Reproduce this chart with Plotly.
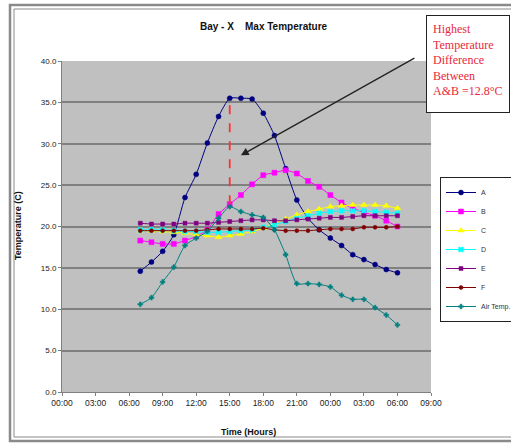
import plotly.graph_objects as go

# Hourly readings from 07:00 through 06:00 the next morning (hours counted from midnight of day one)
hours = list(range(7, 31))

temp_a = [14.6, 15.7, 17.0, 19.0, 23.5, 26.3, 30.1, 33.3, 35.5, 35.5, 35.4, 33.7,
          31.0, 27.0, 23.2, 21.0, 19.6, 18.6, 17.7, 16.6, 16.0, 15.4, 14.8, 14.4]
temp_b = [18.3, 18.1, 17.9, 17.9, 18.3, 18.8, 19.6, 21.5, 22.7, 23.8, 25.1, 26.2,
          26.5, 26.8, 26.4, 25.5, 24.8, 23.8, 22.9, 22.2, 21.7, 21.3, 20.7, 20.0]
temp_c = [19.5, 19.5, 19.4, 19.3, 19.2, 19.0, 18.9, 18.7, 18.9, 19.1, 19.4, 19.8,
          20.4, 20.9, 21.4, 21.8, 22.1, 22.4, 22.5, 22.6, 22.6, 22.6, 22.5, 22.2]
temp_d = [19.6, 19.6, 19.6, 19.5, 19.4, 19.4, 19.3, 19.3, 19.4, 19.5, 19.6, 19.9,
          20.2, 20.6, 21.0, 21.3, 21.6, 21.8, 21.9, 21.9, 21.9, 21.8, 21.7, 21.6]
temp_e = [20.4, 20.3, 20.3, 20.3, 20.4, 20.4, 20.4, 20.5, 20.6, 20.7, 20.8, 20.8,
          20.7, 20.7, 20.8, 20.9, 21.0, 21.1, 21.1, 21.2, 21.3, 21.3, 21.3, 21.3]
temp_f = [19.5, 19.5, 19.5, 19.5, 19.5, 19.5, 19.6, 19.7, 19.7, 19.7, 19.7, 19.8,
          19.6, 19.5, 19.5, 19.5, 19.6, 19.7, 19.7, 19.7, 19.9, 19.9, 19.9, 20.0]
air_temp = [10.6, 11.4, 13.3, 15.1, 17.7, 18.6, 19.4, 21.0, 22.4, 21.8, 21.4, 21.1,
            19.6, 16.6, 13.1, 13.1, 13.0, 12.7, 11.7, 11.2, 11.2, 10.2, 9.3, 8.1]

tick_hours = list(range(0, 34, 3))
tick_text = ["00:00", "03:00", "06:00", "09:00", "12:00", "15:00", "18:00",
             "21:00", "00:00", "03:00", "06:00", "09:00"]

peak_hour = 15

series = [
    ("A", temp_a, "#000080", "circle", 5),
    ("B", temp_b, "#ff00ff", "square", 5),
    ("C", temp_c, "#ffff00", "triangle-up", 6),
    ("D", temp_d, "#00ffff", "x", 5),
    ("E", temp_e, "#800080", "square", 4),
    ("F", temp_f, "#800000", "circle", 4),
    ("Air Temp.", air_temp, "#008080", "cross", 4),
]

W, H = 511, 444
L, R, T, B = 62, 431, 61, 392  # plot-area edges in pixels


def px(x):
    return (x - L) / (R - L)


def py(y):
    return (B - y) / (B - T)


fig = go.Figure()

for name, vals, color, symbol, size in series:
    fig.add_trace(go.Scatter(
        x=hours, y=vals, name=name, mode="lines+markers",
        line=dict(color=color, width=1, shape="spline", smoothing=0.6),
        marker=dict(color=color, symbol=symbol, size=size,
                    line=dict(color=color, width=0.5)),
    ))

# Dashed marker of the largest A-B gap
i_peak = hours.index(peak_hour)
fig.add_trace(go.Scatter(
    x=[peak_hour, peak_hour], y=[temp_b[i_peak], temp_a[i_peak]],
    mode="lines", line=dict(color="#ff3030", width=1.8, dash="dash"),
    showlegend=False, hoverinfo="skip",
))

frame_color = "#8a8a8a"
shapes = [
    dict(type="rect", xref="paper", yref="paper", layer="below",
         x0=px(10), x1=px(530), y0=py(441), y1=py(5),
         line=dict(color=frame_color, width=2.5), fillcolor="rgba(0,0,0,0)"),
    dict(type="rect", xref="paper", yref="paper", layer="below",
         x0=px(14), x1=px(530), y0=py(437), y1=py(9),
         line=dict(color=frame_color, width=1), fillcolor="rgba(0,0,0,0)"),
]

annotations = [
    dict(text="<b>Temperature (C)</b>", xref="paper", yref="paper", x=px(18), y=py(226),
         textangle=-90, showarrow=False, xanchor="center", yanchor="middle",
         font=dict(family="Liberation Sans", size=9, color="#111111")),
    dict(text="<b>Time (Hours)</b>", xref="paper", yref="paper", x=px(248), y=py(432),
         showarrow=False, xanchor="center", yanchor="middle",
         font=dict(family="Liberation Sans", size=9, color="#111111")),
    dict(text="<b>Bay - X    Max Temperature</b>", xref="paper", yref="paper",
         x=px(264), y=py(26), showarrow=False, xanchor="center", yanchor="middle",
         font=dict(family="Liberation Sans", size=10, color="#111111")),
    dict(text="Highest<br>Temperature<br>Difference<br>Between<br>A&B =12.8°C",
         xref="paper", yref="paper", x=px(426), y=py(15),
         xanchor="left", yanchor="top", showarrow=False, align="left", valign="top",
         width=70, height=84, borderpad=6, bgcolor="white",
         bordercolor="#222222", borderwidth=1,
         font=dict(family="Liberation Serif", size=12, color="#e8283a")),
    dict(x=16.0, y=28.6, xref="x", yref="y", text="", showarrow=True,
         ax=175, ay=-98, arrowhead=2, arrowsize=1.2, arrowwidth=1.3,
         arrowcolor="#222222"),
]

fig.update_layout(
    width=W, height=H,
    margin=dict(l=L, r=W - R, t=T, b=H - B, autoexpand=False),
    paper_bgcolor="white", plot_bgcolor="#c0c0c0",
    font=dict(family="Liberation Sans", size=8, color="#222222"),
    shapes=shapes, annotations=annotations,
    legend=dict(x=px(440), y=py(177), xanchor="left", yanchor="top",
                bgcolor="white", bordercolor="#222222", borderwidth=1,
                font=dict(family="Liberation Sans", size=7, color="#333333"),
                itemwidth=30, tracegroupgap=0),
    xaxis=dict(range=[0, 33], tickvals=tick_hours, ticktext=tick_text,
               showgrid=False, zeroline=False, showline=True, linecolor="#808080",
               ticks="outside", ticklen=3, tickcolor="#808080",
               tickfont=dict(size=8.5, color="#222222")),
    yaxis=dict(range=[0, 40], tick0=0, dtick=5, tickformat=".1f",
               showgrid=True, gridcolor="#808080", gridwidth=1.5, zeroline=False,
               showline=True, linecolor="#808080", ticks="outside", ticklen=3,
               tickcolor="#808080", tickfont=dict(size=8, color="#222222")),
)

fig.write_html("out.html")
